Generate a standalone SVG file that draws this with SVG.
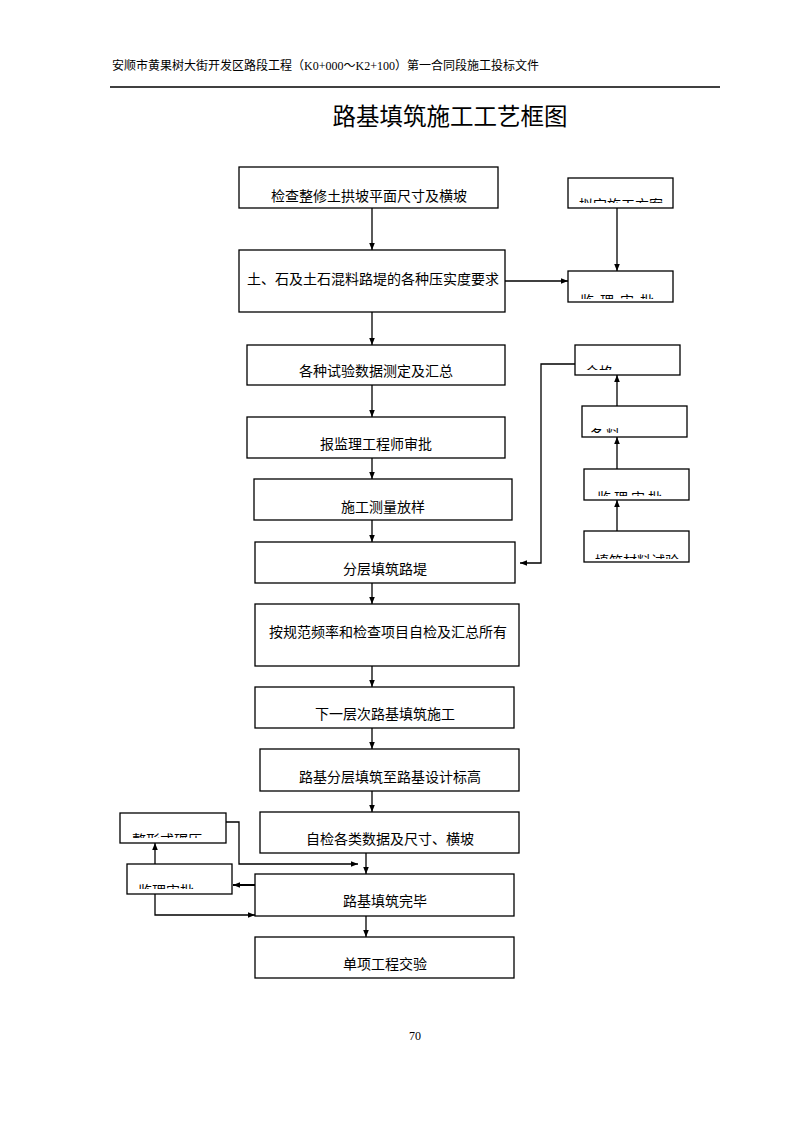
<svg xmlns="http://www.w3.org/2000/svg" width="794" height="1123" viewBox="0 0 794 1123">
<style>
.bx{fill:#fff;stroke:#000;stroke-width:1.3}
.t{font-family:"Liberation Sans","Noto Sans CJK SC",sans-serif;font-size:14px;fill:#000;text-anchor:middle}
.s{font-family:"Liberation Sans","Noto Sans CJK SC",sans-serif;font-size:14px;fill:#000}
.h{font-family:"Noto Sans CJK SC",sans-serif;font-size:12px;fill:#000}
.hs{font-family:"Liberation Serif",serif;font-size:12px;fill:#000}
.c{fill:none;stroke:#000;stroke-width:1.3}
.cb{fill:none;stroke:#000;stroke-width:2}
</style>
<defs>
<marker id="ah" viewBox="0 0 10 10" refX="10" refY="5" markerWidth="7" markerHeight="7" orient="auto" markerUnits="userSpaceOnUse"><path d="M0,1 L10,5 L0,9 z" fill="#000"/></marker>
<clipPath id="k1"><rect x="568" y="178" width="105" height="25"/></clipPath>
<clipPath id="k2"><rect x="568" y="271" width="105" height="28"/></clipPath>
<clipPath id="k3"><rect x="575" y="345" width="105" height="25"/></clipPath>
<clipPath id="k4"><rect x="582" y="406" width="105" height="27"/></clipPath>
<clipPath id="k5"><rect x="584" y="469" width="105" height="27"/></clipPath>
<clipPath id="k6"><rect x="584" y="531" width="105" height="28"/></clipPath>
<clipPath id="k7"><rect x="120" y="813" width="106" height="25"/></clipPath>
<clipPath id="k8"><rect x="127" y="864" width="105" height="25"/></clipPath>
</defs>
<rect width="794" height="1123" fill="#fff"/>
<g id="header">
<text class="h" x="112" y="70">安顺市黄果树大街开发区路段工程（</text>
<text class="hs" x="304" y="70">K0+000</text>
<text class="h" x="343.5" y="70">～</text>
<text class="hs" x="355.5" y="70">K2+100</text>
<text class="h" x="395" y="70">）第一合同段施工投标文件</text>
<line x1="110" y1="87" x2="720" y2="87" stroke="#000" stroke-width="1.3"/>
<text x="450" y="125" font-family="'Noto Sans CJK SC',sans-serif" font-size="23.5" text-anchor="middle">路基填筑施工工艺框图</text>
</g>
<g id="n1"><rect class="bx" x="239" y="167" width="259" height="41"/><text class="t" x="369" y="201">检查整修土拱坡平面尺寸及横坡</text></g>
<g id="n2"><rect class="bx" x="239" y="250" width="266" height="62"/><text class="t" x="373" y="284">土、石及土石混料路堤的各种压实度要求</text></g>
<g id="n3"><rect class="bx" x="247" y="345" width="258" height="40"/><text class="t" x="376" y="376">各种试验数据测定及汇总</text></g>
<g id="n4"><rect class="bx" x="247" y="417" width="258" height="41"/><text class="t" x="376" y="449">报监理工程师审批</text></g>
<g id="n5"><rect class="bx" x="254" y="479" width="258" height="41"/><text class="t" x="383" y="512">施工测量放样</text></g>
<g id="n6"><rect class="bx" x="255" y="542" width="260" height="41"/><text class="t" x="385" y="574">分层填筑路堤</text></g>
<g id="n7"><rect class="bx" x="255" y="604" width="264" height="62"/><text class="t" x="388" y="637">按规范频率和检查项目自检及汇总所有</text></g>
<g id="n8"><rect class="bx" x="255" y="687" width="259" height="41"/><text class="t" x="385" y="719">下一层次路基填筑施工</text></g>
<g id="n9"><rect class="bx" x="260" y="749" width="259" height="42"/><text class="t" x="390" y="782">路基分层填筑至路基设计标高</text></g>
<g id="n10"><rect class="bx" x="260" y="812" width="259" height="41"/><text class="t" x="390" y="844">自检各类数据及尺寸、横坡</text></g>
<g id="n11"><rect class="bx" x="255" y="874" width="259" height="42"/><text class="t" x="385" y="906">路基填筑完毕</text></g>
<g id="n12"><rect class="bx" x="255" y="937" width="259" height="41"/><text class="t" x="385" y="969">单项工程交验</text></g>
<g id="r1"><rect class="bx" x="568" y="178" width="105" height="30"/><text class="s" x="579" y="210" clip-path="url(#k1)">拟定施工方案</text></g>
<g id="r2"><rect class="bx" x="568" y="271" width="105" height="31"/><text class="s" x="580" y="306" letter-spacing="6" clip-path="url(#k2)">监理审批</text></g>
<g id="r3"><rect class="bx" x="575" y="345" width="105" height="30"/><text class="s" x="585" y="377" clip-path="url(#k3)">合格</text></g>
<g id="r4"><rect class="bx" x="582" y="406" width="105" height="31"/><text class="s" x="590" y="440" letter-spacing="2" clip-path="url(#k4)">备料</text></g>
<g id="r5"><rect class="bx" x="584" y="469" width="105" height="31"/><text class="s" x="597" y="503" letter-spacing="3" clip-path="url(#k5)">监理审批</text></g>
<g id="r6"><rect class="bx" x="584" y="531" width="105" height="31"/><text class="s" x="595" y="566" clip-path="url(#k6)">填筑材料试验</text></g>
<g id="l1"><rect class="bx" x="120" y="813" width="106" height="30"/><text class="s" x="132" y="845" clip-path="url(#k7)">整形或碾压</text></g>
<g id="l2"><rect class="bx" x="127" y="864" width="105" height="30"/><text class="s" x="138" y="896" clip-path="url(#k8)">监理审批</text></g>
<g id="connectors">
<line class="c" x1="372" y1="208" x2="372" y2="250" marker-end="url(#ah)"/>
<line class="c" x1="372" y1="312" x2="372" y2="345" marker-end="url(#ah)"/>
<line class="c" x1="372" y1="385" x2="372" y2="417" marker-end="url(#ah)"/>
<line class="c" x1="372" y1="458" x2="372" y2="479" marker-end="url(#ah)"/>
<line class="c" x1="372" y1="520" x2="372" y2="542" marker-end="url(#ah)"/>
<line class="c" x1="372" y1="583" x2="372" y2="604" marker-end="url(#ah)"/>
<line class="c" x1="372" y1="666" x2="372" y2="687" marker-end="url(#ah)"/>
<line class="c" x1="372" y1="728" x2="372" y2="749" marker-end="url(#ah)"/>
<line class="c" x1="372" y1="791" x2="372" y2="812" marker-end="url(#ah)"/>
<line class="c" x1="366" y1="853" x2="366" y2="874" marker-end="url(#ah)"/>
<line class="c" x1="366" y1="916" x2="366" y2="937" marker-end="url(#ah)"/>
<line class="c" x1="505" y1="281" x2="568" y2="281" marker-end="url(#ah)"/>
<line class="c" x1="617" y1="208" x2="617" y2="271" marker-end="url(#ah)"/>
<line class="c" x1="617" y1="531" x2="617" y2="500" marker-end="url(#ah)"/>
<line class="c" x1="617" y1="469" x2="617" y2="437" marker-end="url(#ah)"/>
<line class="c" x1="617" y1="406" x2="617" y2="375" marker-end="url(#ah)"/>
<polyline class="c" points="575,364 541,364 541,563 520,563" marker-end="url(#ah)"/>
<polyline class="c" points="226,822 239,822 239,864 358,864" marker-end="url(#ah)"/>
<line class="cb" x1="255" y1="885" x2="233" y2="885" marker-end="url(#ah)"/>
<polyline class="c" points="155,894 155,915 255,915" marker-end="url(#ah)"/>
<line class="c" x1="155" y1="864" x2="155" y2="843" marker-end="url(#ah)"/>
</g>
<text x="415" y="1040" font-family="'Liberation Serif',serif" font-size="12" text-anchor="middle">70</text>
</svg>
